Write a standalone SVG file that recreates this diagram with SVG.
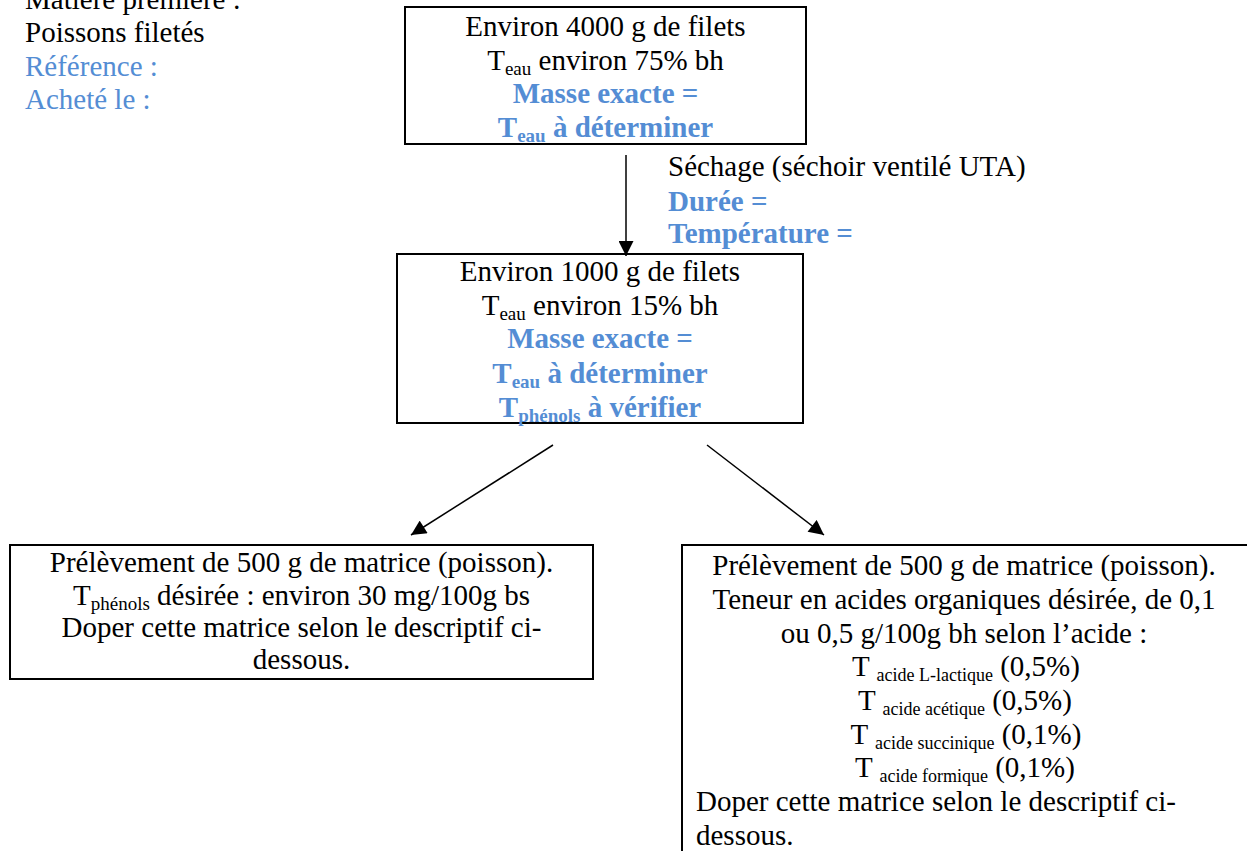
<svg xmlns="http://www.w3.org/2000/svg" width="1247" height="851" viewBox="0 0 1247 851">
<style>
text{font-family:"Liberation Serif","Times New Roman",serif;font-size:29px;fill:#000}
.c{text-anchor:middle}
.b{fill:#548DD4}
.bb{fill:#548DD4;font-weight:bold}
.box{fill:#fff;stroke:#000;stroke-width:2}
.con{stroke:#000;stroke-width:1.5;fill:none}
.sub{font-size:19px}
.sub2{font-size:18px}
</style>
<defs>
<marker id="ah" viewBox="0 0 10 10" refX="10" refY="5" markerUnits="userSpaceOnUse" markerWidth="16" markerHeight="15" orient="auto">
<path d="M0,0 L10,5 L0,10 z" fill="#000"/>
</marker>
</defs>
<rect width="1247" height="851" fill="#fff"/>

<g id="matiere">
<text x="25" y="9">Matière première :</text>
<text x="25" y="42">Poissons filetés</text>
<text x="25" y="76" class="b">Référence :</text>
<text x="25" y="109" class="b">Acheté le :</text>
</g>

<g id="node-4000">
<rect class="box" x="405" y="7" width="401" height="137"/>
<text class="c" x="605.5" y="36">Environ 4000 g de filets</text>
<text class="c" x="605.5" y="70">T<tspan class="sub" dy="5">eau</tspan><tspan dy="-5"> environ 75% bh</tspan></text>
<text class="c bb" x="605.5" y="103">Masse exacte =</text>
<text class="c bb" x="605.5" y="137">T<tspan class="sub" dy="5">eau</tspan><tspan dy="-5"> à déterminer</tspan></text>
</g>

<g id="sechage">
<text x="668" y="176">Séchage (séchoir ventilé UTA)</text>
<text x="668" y="211" class="bb">Durée =</text>
<text x="668" y="243" class="bb">Température =</text>
</g>

<g id="node-1000">
<rect class="box" x="397" y="254" width="406" height="169"/>
<text class="c" x="600" y="281">Environ 1000 g de filets</text>
<text class="c" x="600" y="315">T<tspan class="sub" dy="5">eau</tspan><tspan dy="-5"> environ 15% bh</tspan></text>
<text class="c bb" x="600" y="348">Masse exacte =</text>
<text class="c bb" x="600" y="383">T<tspan class="sub" dy="5">eau</tspan><tspan dy="-5"> à déterminer</tspan></text>
<text class="c bb" x="600" y="417">T<tspan class="sub" dy="5">phénols</tspan><tspan dy="-5"> à vérifier</tspan></text>
</g>

<g id="node-phenols">
<rect class="box" x="10" y="545" width="583" height="134"/>
<text class="c" x="301.5" y="572">Prélèvement de 500 g de matrice (poisson).</text>
<text class="c" x="301.5" y="605">T<tspan class="sub" dy="5">phénols</tspan><tspan dy="-5"> désirée : environ 30 mg/100g bs</tspan></text>
<text class="c" x="301.5" y="637">Doper cette matrice selon le descriptif ci-</text>
<text class="c" x="301.5" y="669">dessous.</text>
</g>

<g id="node-acides">
<rect class="box" x="682" y="545" width="600" height="400"/>
<text class="c" x="964" y="575">Prélèvement de 500 g de matrice (poisson).</text>
<text class="c" x="964" y="609">Teneur en acides organiques désirée, de 0,1</text>
<text class="c" x="964" y="643">ou 0,5 g/100g bh selon l’acide :</text>
<text class="c" x="966" y="676">T <tspan class="sub2" dy="5">acide L-lactique</tspan><tspan dy="-5"> (0,5%)</tspan></text>
<text class="c" x="965" y="710">T   <tspan class="sub2" dy="5">acide acétique</tspan><tspan dy="-5"> (0,5%)</tspan></text>
<text class="c" x="966" y="744">T  <tspan class="sub2" dy="5">acide succinique</tspan><tspan dy="-5"> (0,1%)</tspan></text>
<text class="c" x="965" y="777">T <tspan class="sub2" dy="5">acide formique</tspan><tspan dy="-5"> (0,1%)</tspan></text>
<text x="696" y="811">Doper cette matrice selon le descriptif ci-</text>
<text x="696" y="845">dessous.</text>
</g>

<g id="connectors">
<line class="con" x1="626" y1="155" x2="626" y2="256" marker-end="url(#ah)"/>
<line class="con" x1="553" y1="445" x2="411" y2="535" marker-end="url(#ah)"/>
<line class="con" x1="707" y1="445" x2="824" y2="535" marker-end="url(#ah)"/>
</g>
</svg>
